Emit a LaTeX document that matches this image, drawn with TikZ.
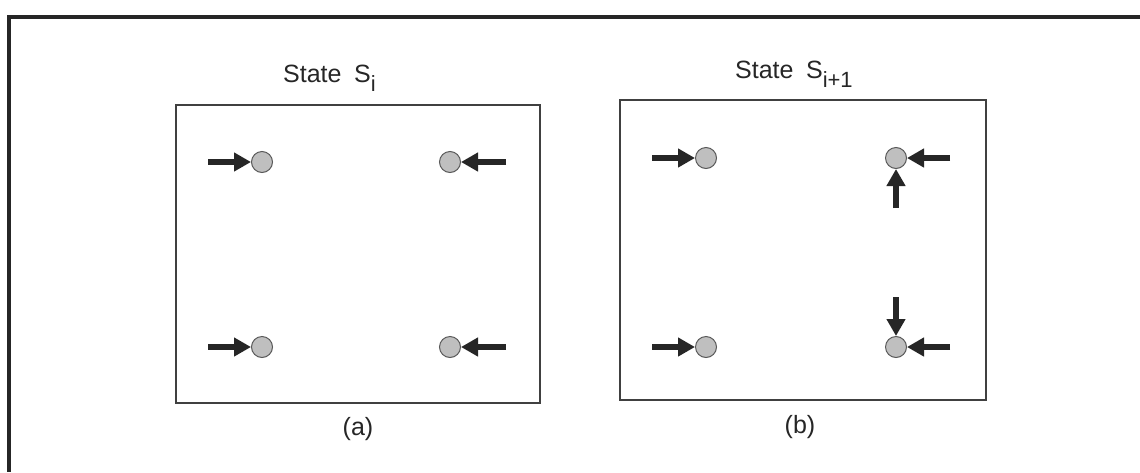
\documentclass[tikz,border=0pt]{standalone}
\usepackage{fontspec}
\setmainfont{Liberation Sans}
\usetikzlibrary{arrows.meta}
\newcommand{\lowsub}[1]{\raisebox{-0.38em}{\fontsize{22}{24}\selectfont #1}}
\begin{document}
\begin{tikzpicture}[x=1pt,y=-1pt,
  panel/.style={draw=black!75,line width=1.4pt},
  atom/.style={circle,draw=black!65,line width=1pt,fill=black!25,minimum size=21pt,inner sep=0pt},
  push/.style={line width=6.5pt,draw=black!85,-{Triangle[length=17pt,width=18pt]}},
  lbl/.style={font=\fontsize{25}{28}\selectfont,text=black!85}]
\useasboundingbox (0,0) rectangle (1140,472);
\fill[white] (0,0) rectangle (1140,472);
% outer frame
\draw[line width=4pt,black!85] (1140,17) -- (9,17) -- (9,472);
% panel (a)
\node[panel,minimum width=364pt,minimum height=298pt,inner sep=0pt] (pa) at (358,254) {};
\node[lbl,anchor=base west,inner sep=0pt] (ta) at (283,82) {State\enspace S\lowsub{i}};
\node[lbl,anchor=base,inner sep=0pt] (ca) at (358,435) {(a)};
\node[atom] (a1) at (262,162) {};
\node[atom] (a2) at (450,162) {};
\node[atom] (a3) at (262,347) {};
\node[atom] (a4) at (450,347) {};
\coordinate (a1s) at (208,162);
\coordinate (a2s) at (506,162);
\coordinate (a3s) at (208,347);
\coordinate (a4s) at (506,347);
\draw[push] (a1s) -- (a1);
\draw[push] (a2s) -- (a2);
\draw[push] (a3s) -- (a3);
\draw[push] (a4s) -- (a4);
% panel (b)
\node[panel,minimum width=366pt,minimum height=300pt,inner sep=0pt] (pb) at (803,250) {};
\node[lbl,anchor=base west,inner sep=0pt] (tb) at (735,78) {State\enspace S\lowsub{i+1}};
\node[lbl,anchor=base,inner sep=0pt] (cb) at (800,433) {(b)};
\node[atom] (b1) at (706,158) {};
\node[atom] (b2) at (896,158) {};
\node[atom] (b3) at (706,347) {};
\node[atom] (b4) at (896,347) {};
\coordinate (b1s) at (652,158);
\coordinate (b2s) at (950,158);
\coordinate (b2u) at (896,208);
\coordinate (b3s) at (652,347);
\coordinate (b4s) at (950,347);
\coordinate (b4d) at (896,297);
\draw[push] (b1s) -- (b1);
\draw[push] (b2s) -- (b2);
\draw[push] (b2u) -- (b2);
\draw[push] (b3s) -- (b3);
\draw[push] (b4s) -- (b4);
\draw[push] (b4d) -- (b4);
\end{tikzpicture}
\end{document}
